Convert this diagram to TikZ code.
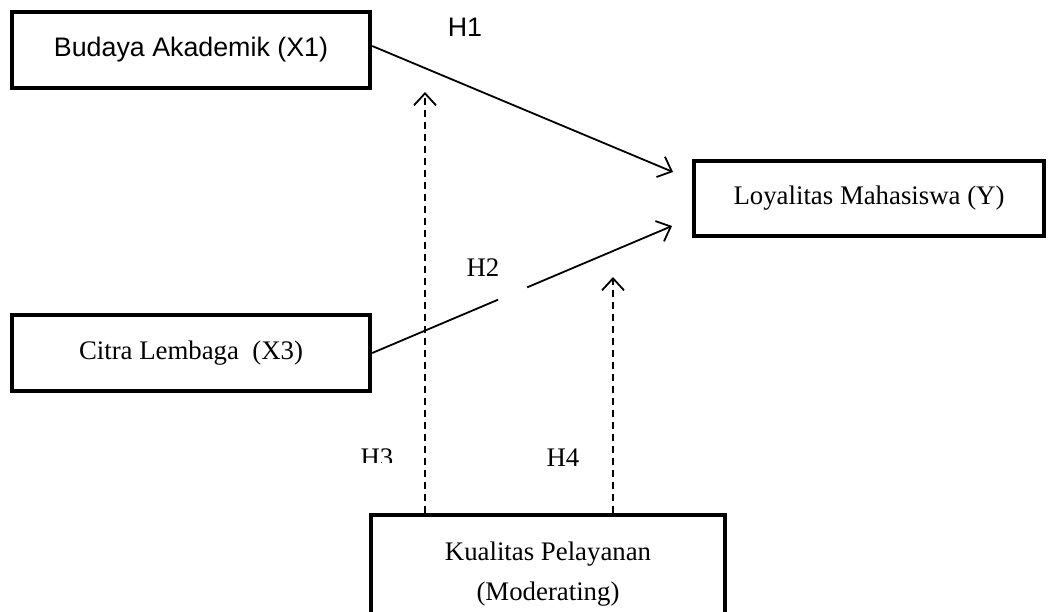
\documentclass[tikz,border=0pt]{standalone}
\usepackage{fontspec}
\setmainfont{Liberation Serif}
\newfontfamily\arialfont{Liberation Sans}
\usepackage{tikz}
\usetikzlibrary{arrows.meta, calc}

\begin{document}
\begin{tikzpicture}[
    x=0.5pt, y=-0.5pt,
    box/.style={rectangle, draw=black, line width=2.2pt, align=center, inner sep=0pt, font=\fontsize{13.4}{20}\selectfont},
    arrow/.style={-{Straight Barb[length=6pt, width=11pt]}, line width=0.9pt},
    dasharrow/.style={arrow, dash pattern=on 3.5pt off 2.5pt},
    hlabel/.style={font=\fontsize{13.4}{16}\selectfont, inner sep=0pt}
]
\clip (0,0) rectangle (1048,611);

% Boxes
\node[box, minimum width=179pt, minimum height=38pt, font=\arialfont\fontsize{13.4}{16}\selectfont] (budaya) at (191,50) {Budaya Akademik (X1)};
\node[box, minimum width=179pt, minimum height=38pt] (citra) at (191,353) {Citra Lembaga~ (X3)};
\node[box, minimum width=175pt, minimum height=37.5pt] (loyal) at (869,198.5) {Loyalitas Mahasiswa (Y)};
\node[box, minimum width=177pt, minimum height=59pt] (kualitas) at (548,574) {Kualitas Pelayanan\\(Moderating)};

% Arrow ends
\coordinate (h1end) at (673,172);
\coordinate (h2end) at (672,226);
\coordinate (h3tip) at (425,92);
\coordinate (h4tip) at (613,277);

% Direct paths
\draw[arrow] ([yshift=2pt]budaya.east) -- (h1end);
\draw[line width=0.9pt] (citra.east) -- ($(citra.east)!0.42!(h2end)$);
\draw[arrow] ($(citra.east)!0.517!(h2end)$) -- (h2end);

% Moderating paths
\draw[dasharrow] (h3tip |- kualitas.north) -- (h3tip);
\draw[dasharrow] (h4tip |- kualitas.north) -- (h4tip);

% Labels
\node[hlabel, font=\arialfont\fontsize{13.4}{16}\selectfont] (h1) at (465,27) {H1};
\node[hlabel] (h2) at (483,268) {H2};
\begin{scope}
  \clip (340,440) rectangle (420,462);
  \node[hlabel] (h3) at (377,458) {H3};
\end{scope}
\node[hlabel] (h4) at (563,458) {H4};

\end{tikzpicture}
\end{document}
